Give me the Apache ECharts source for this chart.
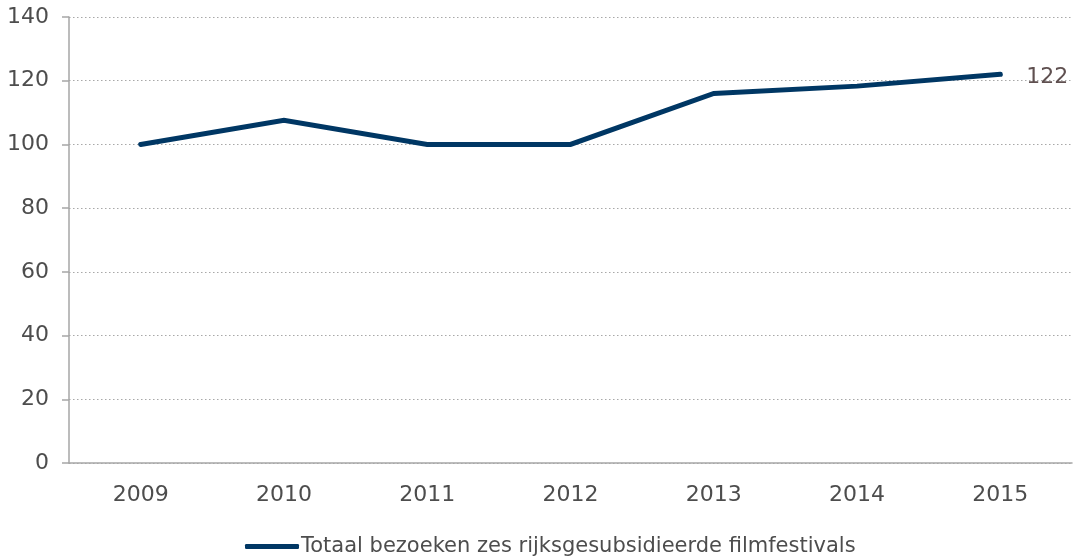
<!DOCTYPE html>
<html>
<head>
<meta charset="utf-8">
<script src="https://cdn.jsdelivr.net/npm/echarts@6/dist/echarts.min.js"></script>
<style>
  html, body { margin: 0; padding: 0; background: #fff; }
  #chart { width: 1075px; height: 558px; }
</style>
</head>
<body>
<div id="chart"></div>
<script>
// jaren en bezoeken (index 2009 = 100)
const years = ['2009', '2010', '2011', '2012', '2013', '2014', '2015']
const visits = [100, 107.6, 100, 100, 116, 118.3, 122]
const seriesName = 'Totaal bezoeken zes rijksgesubsidieerde filmfestivals'

const chart = echarts.init(document.getElementById('chart'))
const fontFamily = 'DejaVu Sans'

chart.setOption({
  animation: false,
  textStyle: { fontFamily },
  grid: { left: 69, right: 3, top: 17, bottom: 95 },
  legend: {
    bottom: 1,
    left: 245,
    padding: 0,
    itemWidth: 54,
    itemHeight: 5,
    itemGap: 0,
    icon: 'roundRect',
    textStyle: { fontSize: 21, color: '#4d4d4d', fontFamily, padding: [0, 0, 0, -3] },
    data: [seriesName]
  },
  xAxis: {
    type: 'category',
    data: years,
    boundaryGap: true,
    axisLine: { lineStyle: { color: '#a6a6a6', width: 1.5 } },
    axisTick: { length: 7, lineStyle: { color: '#a6a6a6', width: 1.5 } },
    axisLabel: { fontSize: 22, color: '#4d4d4d', margin: 21, fontFamily }
  },
  yAxis: {
    type: 'value',
    min: 0,
    max: 140,
    interval: 20,
    axisLine: { show: true, lineStyle: { color: '#a6a6a6', width: 1.5 } },
    axisTick: { show: true, length: 7, lineStyle: { color: '#a6a6a6', width: 1.5 } },
    axisLabel: { fontSize: 22, color: '#4d4d4d', margin: 20, fontFamily },
    splitLine: { lineStyle: { type: [1.5, 2.5], color: '#a8a8a8', width: 1.2 } }
  },
  series: [
    {
      name: seriesName,
      type: 'line',
      data: visits,
      symbol: 'none',
      lineStyle: { color: '#003764', width: 5, cap: 'round', join: 'miter' },
      itemStyle: { color: '#003764' },
      endLabel: {
        show: true,
        formatter: p => Math.round(p.value),
        fontSize: 22,
        fontFamily,
        color: '#5f5050',
        distance: 26,
        offset: [0, 3]
      }
    }
  ]
})
</script>
</body>
</html>
